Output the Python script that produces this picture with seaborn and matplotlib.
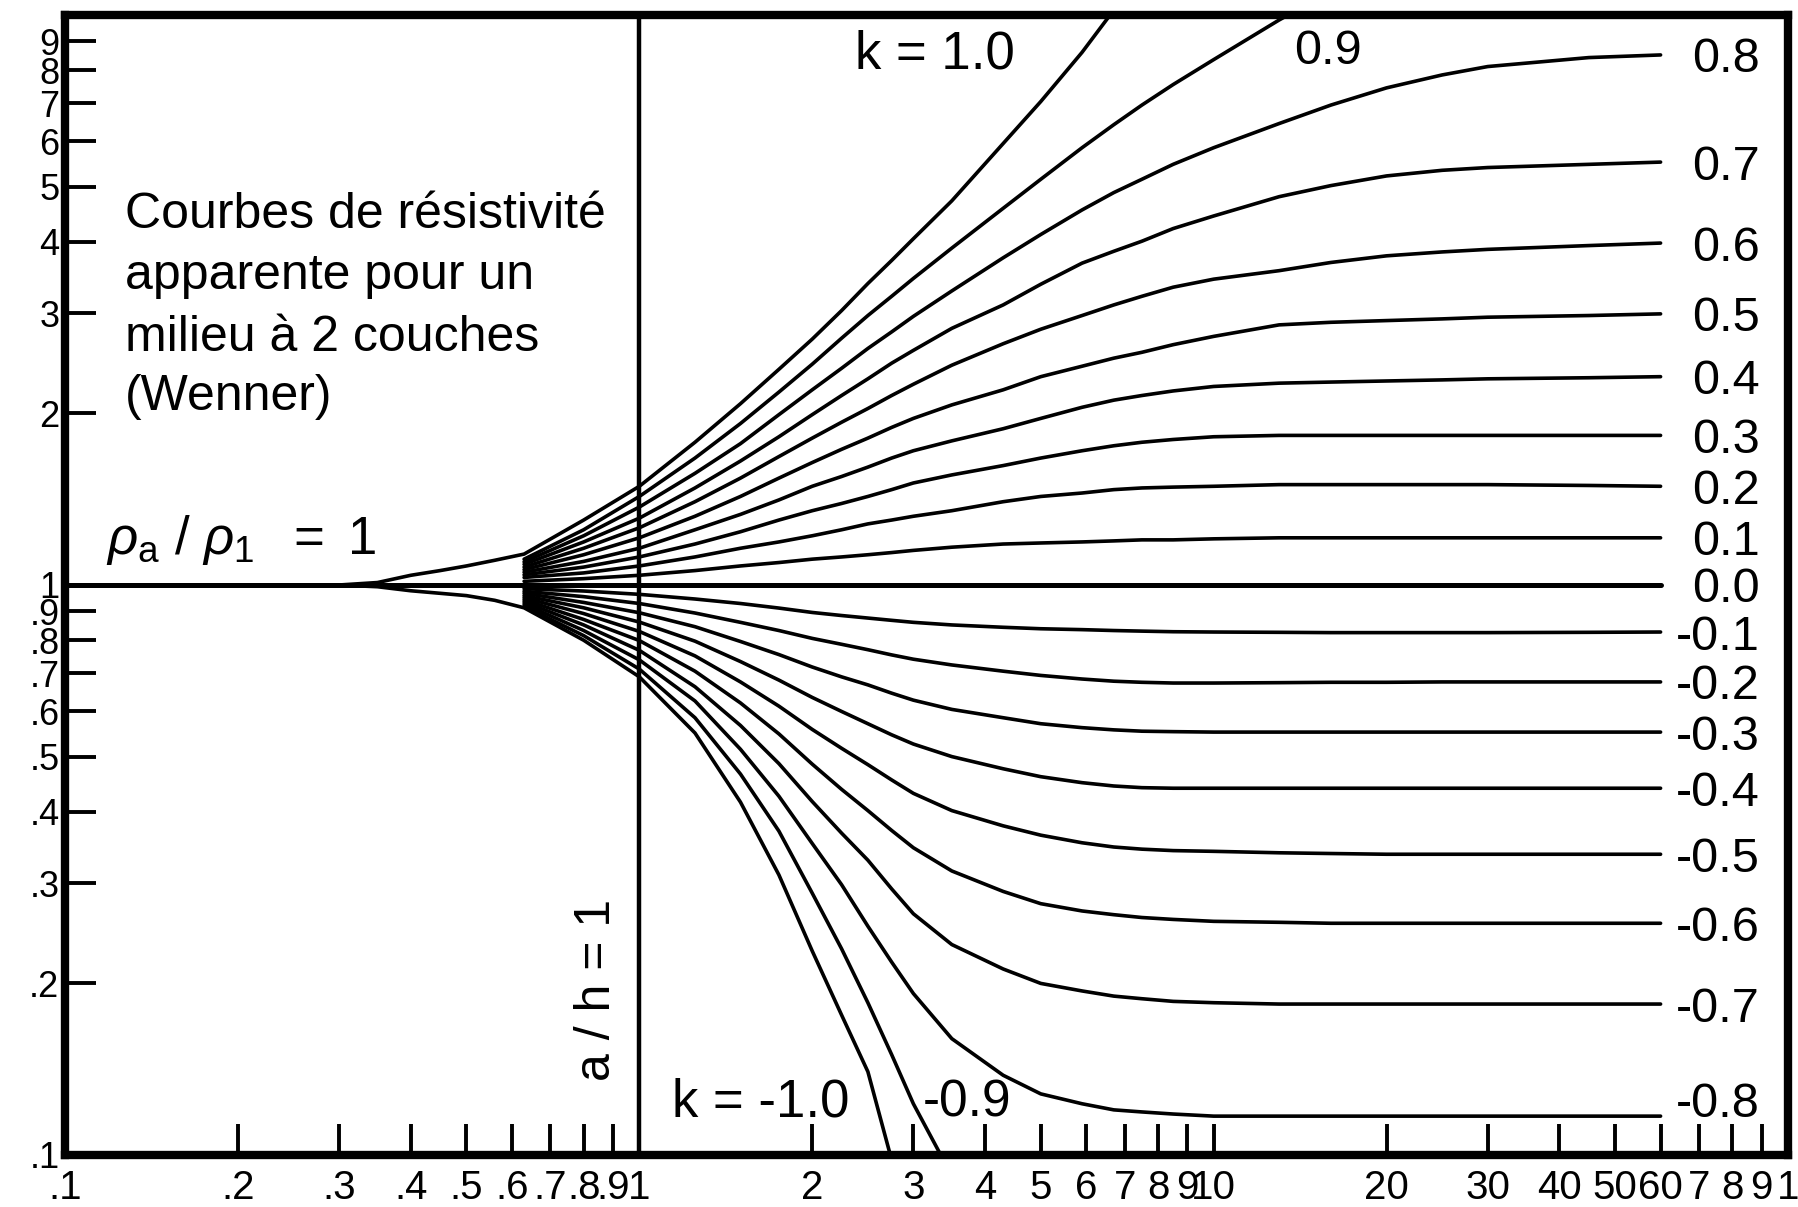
import numpy as np
import pandas as pd
import matplotlib
matplotlib.use("Agg")
import matplotlib.pyplot as plt
import seaborn as sns
from matplotlib.ticker import NullLocator

# ========================== DATA ==========================

# a/h positions shared by every curve, None = curve not drawn there
a_over_h = [0.1, 0.3, 0.35, 0.4, 0.45, 0.5, 0.56,
            0.63, 0.8, 1.0, 1.25, 1.5, 1.75, 2.0, 2.25, 2.5, 2.75, 3.0, 3.5,
            4.3, 5.0, 5.9, 6.7, 7.5, 8.5, 10, 13, 16, 20, 25, 30, 45, 60]

_ = None
# rho_a / rho_1 for each reflection coefficient k
curve_p10 = [_, 1.0, 1.01, 1.04, 1.06, 1.08, 1.105,
             1.133, 1.30, 1.49, 1.78, 2.08, 2.39, 2.70, 3.03, 3.38, 3.71, 4.05, 4.72,
             5.95, 7.05, 8.6, 10.2, 11.6, _, _, _, _, _, _, _, _, _]
curve_p09 = [_] * 7 + [1.11, 1.25, 1.43, 1.67, 1.92, 2.18, 2.44, 2.71, 2.97, 3.21, 3.45, 3.90,
                       4.58, 5.15, 5.85, 6.42, 6.95, 7.55, 8.35, 9.8, 11.0, 12.3, _, _, _, _]
curve_p08 = [_] * 7 + [1.098, 1.22, 1.37, 1.57, 1.77, 1.99, 2.20, 2.40, 2.60, 2.78, 2.96, 3.28,
                       3.75, 4.12, 4.55, 4.88, 5.15, 5.47, 5.85, 6.45, 6.95, 7.45, 7.85, 8.12, 8.42, 8.51]
curve_p07 = [_] * 7 + [1.087, 1.19, 1.31, 1.48, 1.65, 1.82, 1.99, 2.15, 2.30, 2.45, 2.58, 2.82,
                       3.10, 3.37, 3.67, 3.85, 4.01, 4.22, 4.44, 4.80, 5.02, 5.22, 5.34, 5.40, 5.47, 5.52]
curve_p06 = [_] * 7 + [1.075, 1.16, 1.26, 1.40, 1.54, 1.68, 1.81, 1.93, 2.04, 2.15, 2.25, 2.43,
                       2.65, 2.81, 2.97, 3.10, 3.21, 3.33, 3.44, 3.56, 3.68, 3.78, 3.84, 3.88, 3.94, 3.98]
curve_p05 = [_] * 7 + [1.064, 1.13, 1.21, 1.32, 1.43, 1.54, 1.64, 1.73, 1.81, 1.89, 1.96, 2.07,
                       2.20, 2.32, 2.42, 2.50, 2.56, 2.64, 2.73, 2.86, 2.89, 2.91, 2.93, 2.95, 2.97, 2.99]
curve_p04 = [_] * 7 + [1.053, 1.10, 1.16, 1.25, 1.33, 1.41, 1.49, 1.55, 1.61, 1.67, 1.72, 1.79,
                       1.88, 1.96, 2.05, 2.11, 2.15, 2.19, 2.23, 2.26, 2.27, 2.28, 2.29, 2.30, 2.31, 2.32]
curve_p03 = [_] * 7 + [1.042, 1.075, 1.12, 1.18, 1.24, 1.30, 1.35, 1.39, 1.43, 1.47, 1.51, 1.56,
                       1.62, 1.67, 1.72, 1.755, 1.78, 1.80, 1.82, 1.83, 1.83, 1.83, 1.83, 1.83, 1.83, 1.83]
curve_p02 = [_] * 7 + [1.031, 1.05, 1.08, 1.12, 1.16, 1.19, 1.22, 1.25, 1.28, 1.30, 1.32, 1.35,
                       1.40, 1.43, 1.45, 1.47, 1.48, 1.485, 1.49, 1.50, 1.50, 1.50, 1.50, 1.50, 1.495, 1.49]
curve_p01 = [_] * 7 + [1.015, 1.026, 1.04, 1.06, 1.08, 1.095, 1.11, 1.12, 1.13, 1.14, 1.15, 1.165,
                       1.18, 1.185, 1.19, 1.195, 1.20, 1.20, 1.205, 1.21, 1.21, 1.21, 1.21, 1.21, 1.21, 1.21]
curve_000 = [1.0] * 33
curve_m01 = [_] * 7 + [0.985, 0.976, 0.963, 0.945, 0.928, 0.911, 0.895, 0.884, 0.875, 0.867, 0.860, 0.851,
                       0.843, 0.838, 0.835, 0.832, 0.830, 0.828, 0.827, 0.826, 0.825, 0.825, 0.825, 0.825,
                       0.826, 0.827]
curve_m02 = [_] * 7 + [0.975, 0.954, 0.928, 0.893, 0.860, 0.832, 0.806, 0.787, 0.770, 0.754, 0.741, 0.724,
                       0.706, 0.694, 0.684, 0.678, 0.675, 0.673, 0.673, 0.674, 0.675, 0.675, 0.676, 0.676,
                       0.676, 0.676]
curve_m03 = [_] * 7 + [0.967, 0.932, 0.894, 0.845, 0.796, 0.755, 0.718, 0.690, 0.668, 0.646, 0.628, 0.605,
                       0.585, 0.571, 0.562, 0.557, 0.554, 0.553, 0.552, 0.552, 0.552, 0.552, 0.552, 0.552,
                       0.552, 0.552]
curve_m04 = [_] * 7 + [0.958, 0.912, 0.861, 0.797, 0.734, 0.681, 0.635, 0.600, 0.571, 0.546, 0.526, 0.500,
                       0.476, 0.461, 0.450, 0.444, 0.441, 0.440, 0.440, 0.440, 0.440, 0.440, 0.440, 0.440,
                       0.440, 0.440]
curve_m05 = [_] * 7 + [0.950, 0.891, 0.829, 0.751, 0.676, 0.613, 0.558, 0.517, 0.484, 0.455, 0.431, 0.402,
                       0.378, 0.364, 0.353, 0.347, 0.344, 0.342, 0.341, 0.339, 0.338, 0.337, 0.337, 0.337,
                       0.337, 0.337]
curve_m06 = [_] * 7 + [0.942, 0.870, 0.799, 0.706, 0.621, 0.548, 0.485, 0.438, 0.402, 0.371, 0.346, 0.315,
                       0.290, 0.276, 0.268, 0.264, 0.261, 0.259, 0.257, 0.256, 0.255, 0.255, 0.255, 0.255,
                       0.255, 0.255]
curve_m07 = [_] * 7 + [0.934, 0.851, 0.768, 0.663, 0.567, 0.486, 0.417, 0.367, 0.329, 0.293, 0.265, 0.234,
                       0.212, 0.200, 0.194, 0.190, 0.188, 0.186, 0.185, 0.184, 0.184, 0.184, 0.184, 0.184,
                       0.184, 0.184]
curve_m08 = [_] * 7 + [0.926, 0.832, 0.739, 0.626, 0.515, 0.426, 0.352, 0.298, 0.252, 0.218, 0.192, 0.160,
                       0.138, 0.128, 0.123, 0.120, 0.119, 0.118, 0.117, 0.117, 0.117, 0.117, 0.117, 0.117,
                       0.117, 0.117]
curve_m09 = [_] * 7 + [0.918, 0.815, 0.712, 0.585, 0.466, 0.370, 0.288, 0.230, 0.185, 0.150, 0.123, 0.092,
                       _, _, _, _, _, _, _, _, _, _, _, _, _, _]
curve_m10 = [_, 1.0, 0.993, 0.977, 0.967, 0.958, 0.94,
             0.912, 0.80, 0.69, 0.55, 0.416, 0.31, 0.228, 0.176, 0.14, 0.098, 0.07, _,
             _, _, _, _, _, _, _, _, _, _, _, _, _, _]

k_values = [1.0, 0.9, 0.8, 0.7, 0.6, 0.5, 0.4, 0.3, 0.2, 0.1, 0.0,
            -0.1, -0.2, -0.3, -0.4, -0.5, -0.6, -0.7, -0.8, -0.9, -1.0]
curves = [curve_p10, curve_p09, curve_p08, curve_p07, curve_p06, curve_p05, curve_p04,
          curve_p03, curve_p02, curve_p01, curve_000, curve_m01, curve_m02, curve_m03,
          curve_m04, curve_m05, curve_m06, curve_m07, curve_m08, curve_m09, curve_m10]

x_ticks = [0.1, 0.2, 0.3, 0.4, 0.5, 0.6, 0.7, 0.8, 0.9, 1, 2, 3, 4, 5, 6, 7, 8, 9,
           10, 20, 30, 40, 50, 60, 70, 80, 90, 100]
x_tick_labels = [".1", ".2", ".3", ".4", ".5", ".6", ".7", ".8", ".9", "1", "2", "3", "4",
                 "5", "6", "7", "8", "9", "10", "20", "30", "40", "50", "60", "7", "8", "9", "1"]
y_ticks = [0.1, 0.2, 0.3, 0.4, 0.5, 0.6, 0.7, 0.8, 0.9, 1, 2, 3, 4, 5, 6, 7, 8, 9]
y_tick_labels = [".1", ".2", ".3", ".4", ".5", ".6", ".7", ".8", ".9", "1",
                 "2", "3", "4", "5", "6", "7", "8", "9"]

note_lines = ["Courbes de résistivité", "apparente pour un", "milieu à 2 couches", "(Wenner)"]

# ========================== TABLE ==========================

rows = []
for k, ys in zip(k_values, curves):
    for x, y in zip(a_over_h, ys):
        if y is not None:
            rows.append((x, y, k))
df = pd.DataFrame(rows, columns=["a_h", "rho", "k"])
df["trait"] = np.where(df["k"] == 0, "ref", "curve")

# ========================== PLOT ==========================

sns.set_theme(style="white")
plt.rcParams["font.family"] = ["Liberation Sans", "DejaVu Sans"]
plt.rcParams["mathtext.fontset"] = "custom"
plt.rcParams["mathtext.rm"] = "Liberation Sans"
plt.rcParams["mathtext.it"] = "Liberation Sans:italic"
plt.rcParams["axes.edgecolor"] = "black"
plt.rcParams["text.color"] = "black"

fig = plt.figure(figsize=(17.98, 12.07), dpi=100)
ax = fig.add_axes([65 / 1798, 52 / 1207, 1723 / 1798, 1140 / 1207])

sns.lineplot(data=df, x="a_h", y="rho", hue="k", size="trait",
             palette={k: "black" for k in k_values},
             sizes={"ref": 3.6, "curve": 2.6},
             estimator=None, legend=False, ax=ax)
ax.axvline(1, color="black", lw=3.2)

ax.set_xscale("log")
ax.set_yscale("log")
ax.set_xlim(0.1, 100)
ax.set_ylim(0.1, 10)
ax.set_xticks(x_ticks, labels=x_tick_labels)
ax.set_yticks(y_ticks, labels=y_tick_labels)
ax.xaxis.set_minor_locator(NullLocator())
ax.yaxis.set_minor_locator(NullLocator())
ax.set_xlabel("")
ax.set_ylabel("")

ax.tick_params(axis="both", which="major", direction="in", length=22, width=2.8,
               colors="black", bottom=True, left=True, top=False, right=False)
ax.tick_params(axis="x", labelsize=29, pad=10)
ax.tick_params(axis="y", labelsize=26, pad=4)
for side in ["left", "right", "top", "bottom"]:
    ax.spines[side].set_linewidth(6)
    ax.spines[side].set_color("black")

# curve labels at the right end
for k, ys in zip(k_values, curves):
    if abs(k) > 0.85:
        continue
    y_end = [y for y in ys if y is not None][-1]
    if k == -0.8:
        y_end *= 1.07
    ax.text(89.4, y_end, f"{k:.1f}", fontsize=35, ha="right", va="center_baseline")

ax.text(2.37, 8.07, "k = 1.0", fontsize=38, va="baseline")
ax.text(13.8, 8.2, "0.9", fontsize=35, va="baseline")
ax.text(1.14, 0.1166, "k = -1.0", fontsize=38, va="baseline")
ax.text(3.12, 0.1166, "-0.9", fontsize=37, va="baseline")
ax.text(0.843, 0.195, "a / h = 1", fontsize=36, rotation=90, ha="center", va="center")

for line, base in zip(note_lines, [4.23, 3.31, 2.574, 2.028]):
    ax.text(0.127, base, line, fontsize=36, va="baseline")

ax.text(0.118, 1.133, r"$\rho_{\mathrm{a}}\ /\ \rho_{\mathrm{1}}\ \ =\ 1$",
        fontsize=38, va="baseline")

fig.savefig("out.png", dpi=100)
